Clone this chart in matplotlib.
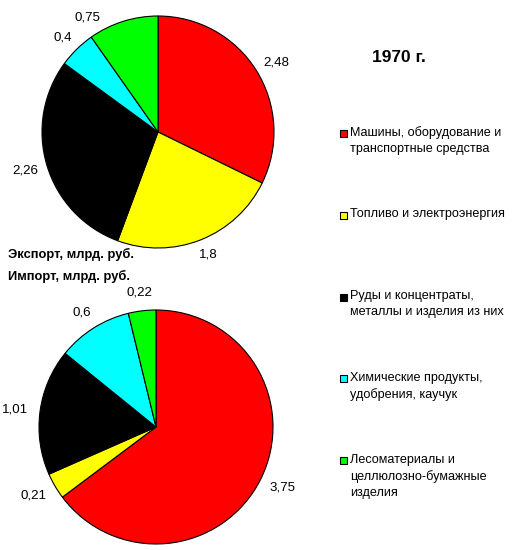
import matplotlib
matplotlib.use("Agg")
import matplotlib.pyplot as plt
import numpy as np
from matplotlib.patches import Rectangle

plt.rcParams['font.family'] = ['Liberation Sans', 'DejaVu Sans']

categories = ["Машины, оборудование и\nтранспортные средства",
              "Топливо и электроэнергия",
              "Руды и концентраты,\nметаллы и изделия из них",
              "Химические продукты,\nудобрения, каучук",
              "Лесоматериалы и\nцеллюлозно-бумажные\nизделия"]
export_vals = [2.48, 1.8, 2.26, 0.4, 0.75]
import_vals = [3.75, 0.21, 1.01, 0.6, 0.22]
colors = ["#ff0000", "#ffff00", "#000000", "#00ffff", "#00ff00"]
title = "1970 г."
export_label = "Экспорт, млрд. руб."
import_label = "Импорт, млрд. руб."

W, H = 513, 550
fig = plt.figure(figsize=(W / 100, H / 100), dpi=100)
renderer = fig.canvas.get_renderer()

def fmt(v):
    return ("%g" % v).replace(".", ",")

def pie_axes(cx, cy, r):
    return fig.add_axes([(cx - r) / W, 1 - (cy + r) / H, 2 * r / W, 2 * r / H])

def draw_pie(ax, vals, gap):
    wedges, _ = ax.pie(vals, colors=colors, startangle=90, counterclock=False, radius=1,
                       wedgeprops=dict(edgecolor="black", linewidth=0.8))
    ax.set_xlim(-1, 1)
    ax.set_ylim(-1, 1)
    ax.set_aspect("equal")
    c = ax.transData.transform((0, 0))
    r = ax.transData.transform((1, 0))[0] - c[0]
    for w, v in zip(wedges, vals):
        th = np.deg2rad((w.theta1 + w.theta2) / 2)
        t = fig.text(0, 0, fmt(v), fontsize=9.6, ha="center", va="center")
        bb = t.get_window_extent(renderer)
        tw, thh = bb.width, bb.height
        px = c[0] + (r + gap) * np.cos(th) + tw / 2 * np.cos(th)
        py = c[1] + (r + gap) * np.sin(th) + thh / 2 * np.sin(th)
        top_lim = H - 12
        if py + thh / 2 > top_lim:
            py = top_lim - thh / 2
            s = min((py - c[1]) / (r + gap + thh / 2), 1.0)
            th2 = np.pi - np.arcsin(s) if np.cos(th) < 0 else np.arcsin(s)
            px = c[0] + (r + gap + tw / 2) * np.cos(th2)
        t.set_position((px / W, py / H))

ax1 = pie_axes(158, 132, 116)
draw_pie(ax1, export_vals, 10)
ax2 = pie_axes(156, 427, 117)
draw_pie(ax2, import_vals, 12)

fig.text(8 / W, 1 - 254 / H, export_label, fontsize=9.3, fontweight="bold", ha="left", va="center")
fig.text(8 / W, 1 - 276 / H, import_label, fontsize=9.3, fontweight="bold", ha="left", va="center")
fig.text(399 / W, 1 - 57 / H, title, fontsize=12.5, fontweight="bold", ha="center", va="center")

# manual legend
lax = fig.add_axes([0, 0, 1, 1])
lax.set_xlim(0, W)
lax.set_ylim(H, 0)
lax.axis("off")
y0, dy = 133.5, 81.75
for i, (lab, c) in enumerate(zip(categories, colors)):
    y = y0 + i * dy
    lax.add_patch(Rectangle((340, y - 3.5), 7, 7, facecolor=c, edgecolor="black", linewidth=0.8))
    lax.text(350, y - 7, lab, fontsize=9.1, ha="left", va="top", linespacing=1.45)

fig.savefig("out.png", dpi=100)
